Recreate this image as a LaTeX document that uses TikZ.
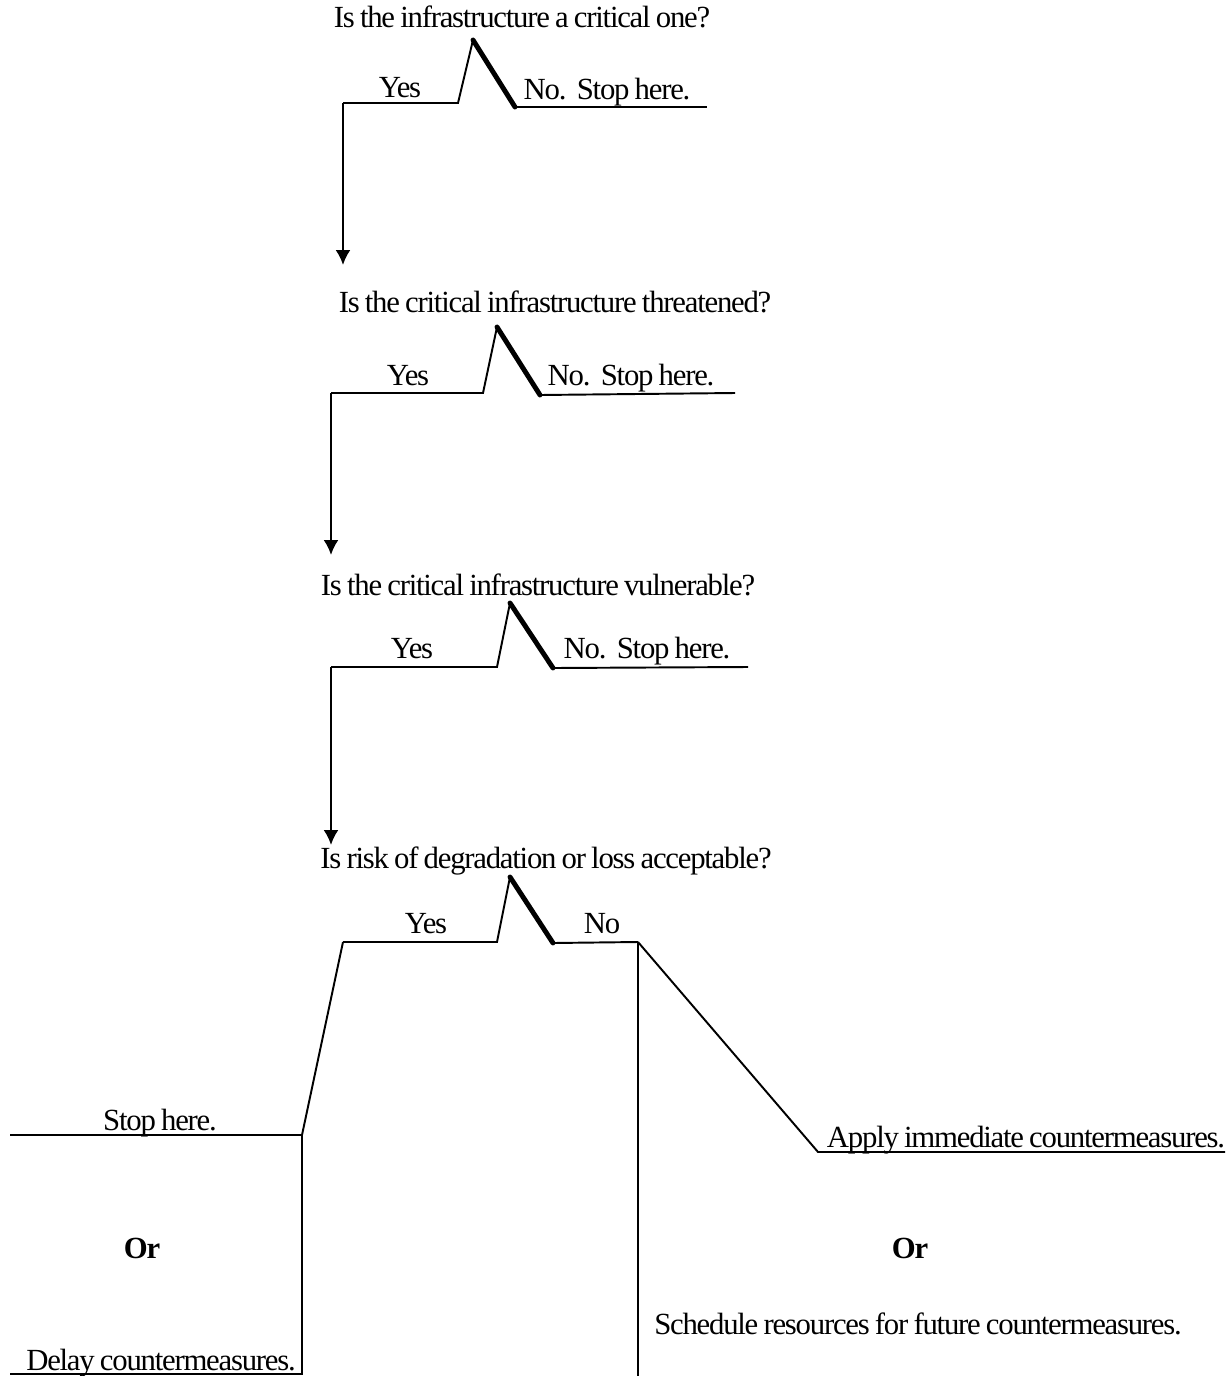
\documentclass[tikz,border=0pt]{standalone}
\usepackage{fontspec}
\setmainfont{Liberation Serif}[LetterSpace=-4,WordSpace=0.8]
\usetikzlibrary{arrows.meta}
\tikzset{>=Latex}
\tikzset{
  txt/.style={anchor=base,inner sep=0pt,font=\fontsize{17.5}{20}\selectfont},
  orword/.style={txt,font=\fontsize{17.5}{20}\selectfont\bfseries},
  rule/.style={line width=1.1pt},
  heavy/.style={line width=2.8pt,line cap=round},
  down/.style={line width=1.3pt,-{Latex[length=8.5pt,width=8.5pt]}}
}

\begin{document}
\begin{tikzpicture}[x=0.02cm,y=-0.02cm]
  \useasboundingbox (0,0) rectangle (1228,1376);

  % first question
  \node[txt] (q1) at (522,27) {Is the infrastructure a critical one?};
  \coordinate (a1) at (343,103);
  \coordinate (b1) at (458,103);
  \coordinate (p1) at (473,40);
  \coordinate (c1) at (515,107);
  \coordinate (d1) at (707,107);
  \coordinate (t1) at (343,265);
  \node[txt] (yes1) at (400,97) {Yes};
  \node[txt] (no1) at (607,99) {No.\ \ Stop here.};
  \draw[rule] (a1) -- (b1) -- (p1);
  \draw[heavy] (p1) -- (c1);
  \draw[rule] (c1) -- (d1);
  \draw[down] (a1) -- (t1);

  % second question
  \node[txt] (q2) at (555,312) {Is the critical infrastructure threatened?};
  \coordinate (a2) at (331,393);
  \coordinate (b2) at (483,393);
  \coordinate (p2) at (497,327);
  \coordinate (c2) at (540,395);
  \coordinate (d2) at (735,393);
  \coordinate (t2) at (331,555);
  \node[txt] (yes2) at (408,385) {Yes};
  \node[txt] (no2) at (631,385) {No.\ \ Stop here.};
  \draw[rule] (a2) -- (b2) -- (p2);
  \draw[heavy] (p2) -- (c2);
  \draw[rule] (c2) -- (d2);
  \draw[down] (a2) -- (t2);

  % third question
  \node[txt] (q3) at (538,595) {Is the critical infrastructure vulnerable?};
  \coordinate (a3) at (331,667);
  \coordinate (b3) at (497,667);
  \coordinate (p3) at (510,603);
  \coordinate (c3) at (553,668);
  \coordinate (d3) at (748,667);
  \coordinate (t3) at (331,845);
  \node[txt] (yes3) at (412,658) {Yes};
  \node[txt] (no3) at (647,658) {No.\ \ Stop here.};
  \draw[rule] (a3) -- (b3) -- (p3);
  \draw[heavy] (p3) -- (c3);
  \draw[rule] (c3) -- (d3);
  \draw[down] (a3) -- (t3);

  % risk question
  \node[txt] (q4) at (546,868) {Is risk of degradation or loss acceptable?};
  \coordinate (a4) at (343,942);
  \coordinate (b4) at (497,942);
  \coordinate (p4) at (510,877);
  \coordinate (c4) at (553,943);
  \coordinate (d4) at (638,942);
  \node[txt] (yes4) at (426,933) {Yes};
  \node[txt] (no4) at (602,933) {No};
  \draw[rule] (a4) -- (b4) -- (p4);
  \draw[heavy] (p4) -- (c4);
  \draw[rule] (c4) -- (d4);

  % yes branch
  \coordinate (sr) at (302,1135);
  \coordinate (sl) at (10,1135);
  \coordinate (dr) at (302,1374);
  \coordinate (dl) at (10,1374);
  \node[txt] (stop) at (160,1130) {Stop here.};
  \node[orword] (orL) at (142,1258) {Or};
  \node[txt] (delay) at (161,1370) {Delay countermeasures.};
  \draw[rule] (a4) -- (sr) -- (sl);
  \draw[rule] (sr) -- (dr) -- (dl);

  % no branch
  \coordinate (nb) at (638,1376);
  \coordinate (al) at (818,1152);
  \coordinate (ar) at (1225,1152);
  \node[txt] (apply) at (1026,1147) {Apply immediate countermeasures.};
  \node[orword] (orR) at (910,1258) {Or};
  \node[txt] (sched) at (918,1334) {Schedule resources for future countermeasures.};
  \draw[rule] (d4) -- (nb);
  \draw[rule] (d4) -- (al) -- (ar);
\end{tikzpicture}
\end{document}
